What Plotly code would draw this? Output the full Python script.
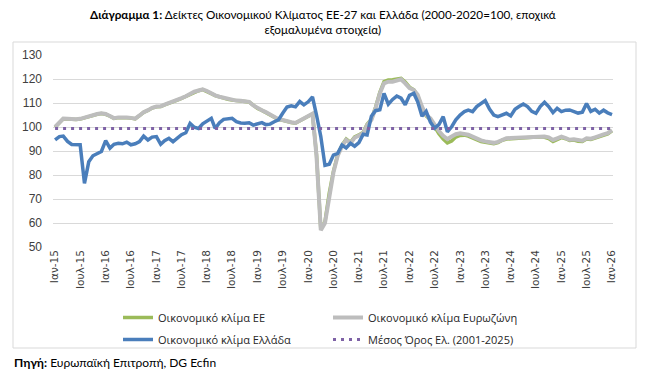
import pandas as pd
import plotly.graph_objects as go

months = pd.date_range("2015-01-01", "2026-01-01", freq="MS")

greece = [94.6, 96.0, 96.2, 94.0, 92.7, 92.5, 92.6, 76.5, 85.5, 88.0,
          88.8, 89.8, 94.3, 91.2, 92.8, 93.2, 93.0, 93.7, 92.6, 93.0,
          93.9, 96.2, 94.6, 95.8, 96.0, 92.8, 94.3, 95.3, 93.9, 95.2,
          96.8, 97.6, 101.5, 99.9, 99.4, 101.3, 102.3, 103.6, 99.4, 101.8,
          103.2, 103.4, 103.6, 102.2, 101.7, 101.6, 101.8, 100.8, 101.4, 101.8,
          101.0, 101.2, 102.2, 103.0, 105.7, 108.3, 108.8, 108.4, 110.6, 109.2,
          110.5, 112.5, 105.0, 96.0, 84.0, 84.5, 88.3, 89.0, 92.5, 91.3,
          93.2, 92.0, 93.5, 97.0, 96.7, 104.5, 106.8, 107.2, 114.0, 109.5,
          111.5, 112.9, 112.0, 109.3, 113.2, 114.0, 110.5, 104.5, 106.5, 102.0,
          99.5, 101.0, 104.3, 98.0, 100.1, 103.0, 105.0, 106.4, 107.0, 106.4,
          108.5, 110.0, 111.0, 107.5, 105.0, 104.3, 105.0, 105.7, 104.6, 107.4,
          108.5, 109.6, 108.5, 106.5, 105.7, 108.5, 110.3, 108.5, 106.0, 107.8,
          106.4, 107.0, 107.1, 106.5, 105.8, 106.2, 109.8, 106.5, 107.4, 105.8,
          107.0, 105.9, 105.2]

eurozone = [100.0, 102.0, 103.5, 103.4, 103.2, 103.2, 103.4, 104.0, 104.6, 105.0,
            105.4, 105.7, 105.4, 104.6, 103.7, 104.0, 104.1, 104.0, 103.8, 103.5,
            104.8, 106.2, 107.0, 108.0, 108.5, 108.6, 109.3, 109.9, 110.4, 111.3,
            112.0, 112.8, 114.0, 114.7, 115.2, 115.7, 115.0, 114.0, 113.2, 112.6,
            112.2, 111.6, 111.3, 111.0, 110.9, 110.7, 110.5, 109.0, 107.8, 107.0,
            106.2, 105.3, 104.2, 103.2, 102.9, 102.3, 102.0, 101.7, 102.6, 103.3,
            104.3, 105.5, 88.0, 57.0, 60.0, 72.0, 81.0, 88.0, 92.0, 94.6,
            93.2, 95.5, 96.3, 97.4, 100.8, 102.9, 107.8, 114.0, 118.2, 118.9,
            118.9, 119.3, 119.9, 118.2, 116.2, 115.4, 113.4, 108.5, 105.0, 103.6,
            100.8, 98.3, 96.3, 95.0, 96.0, 97.0, 97.4, 97.3, 96.8, 96.0,
            95.0, 94.4, 94.0, 93.6, 93.4, 93.8, 94.8, 95.3, 95.4, 95.5,
            95.6, 95.7, 96.0, 96.1, 96.0, 96.2, 96.0, 95.7, 94.6, 95.3,
            96.0, 95.4, 94.7, 94.9, 94.4, 94.3, 95.3, 95.1, 95.7, 96.5,
            96.9, 97.4, 98.7]

eu27 = [99.9, 101.9, 103.4, 103.3, 103.1, 103.1, 103.3, 103.9, 104.5, 104.9,
        105.3, 105.6, 105.3, 104.5, 103.6, 103.9, 104.0, 103.9, 103.7, 103.4,
        104.7, 106.1, 106.9, 107.9, 108.4, 108.5, 109.2, 109.8, 110.3, 111.2,
        111.9, 112.7, 113.9, 114.6, 115.1, 115.6, 114.9, 113.9, 113.1, 112.5,
        112.1, 111.5, 111.2, 110.9, 110.8, 110.6, 110.4, 108.9, 107.7, 106.9,
        106.1, 105.2, 104.1, 103.1, 102.8, 102.2, 101.9, 101.6, 102.5, 103.2,
        104.2, 105.4, 88.5, 57.5, 60.5, 72.5, 81.5, 88.5, 92.5, 95.0,
        93.6, 95.9, 96.7, 97.8, 101.2, 103.3, 108.2, 114.5, 118.9, 119.6,
        119.7, 120.0, 120.3, 118.8, 116.6, 115.5, 113.0, 108.0, 104.6, 103.0,
        100.0, 97.2, 95.0, 93.4, 94.2, 95.8, 96.5, 96.6, 96.2, 95.4,
        94.5, 93.9, 93.6, 93.2, 93.0, 93.5, 94.5, 95.0, 95.1, 95.2,
        95.3, 95.4, 95.7, 95.8, 95.7, 95.9, 95.7, 95.2, 94.0, 94.8,
        95.6, 95.1, 94.4, 94.6, 94.1, 94.0, 95.0, 94.8, 95.4, 96.2,
        96.6, 97.1, 98.4]

greece_mean = 99.4
mean_line = [greece_mean] * len(months)

tick_dates = pd.date_range("2015-01-01", "2026-01-01", freq="6MS")
tick_labels = []
for d in tick_dates:
    tick_labels.append(("Ιαν-" if d.month == 1 else "Ιουλ-") + str(d.year)[2:])

names = ["Οικονομικό κλίμα ΕΕ", "Οικονομικό κλίμα Ευρωζώνη",
         "Οικονομικό κλίμα Ελλάδα", "Μέσος Όρος Ελ. (2001-2025)"]

fig = go.Figure()
fig.add_trace(go.Scatter(x=months, y=eu27, name=names[0], mode="lines",
                         line=dict(color="#9BBB59", width=3.5), legend="legend"))
fig.add_trace(go.Scatter(x=months, y=eurozone, name=names[1], mode="lines",
                         line=dict(color="#BDBDBD", width=4), legend="legend"))
fig.add_trace(go.Scatter(x=months, y=greece, name=names[2], mode="lines",
                         line=dict(color="#4A7EBB", width=3.5), legend="legend2"))
fig.add_trace(go.Scatter(x=months, y=mean_line, name=names[3], mode="lines",
                         line=dict(color="#7E62A6", width=3, dash="3px,5px"),
                         legend="legend2"))

L, R, T, B = 53, 613, 55, 247
W, H = 646, 382
pw, ph = R - L, B - T

def px(xp):
    return (xp - L) / pw

def py(yp):
    return (B - yp) / ph

fig.update_layout(
    width=W, height=H,
    margin=dict(l=L, r=W - R, t=T, b=H - B, pad=0),
    paper_bgcolor="white", plot_bgcolor="white",
    font=dict(family="Open Sans, sans-serif", size=11, color="#262626"),
    xaxis=dict(
        range=["2014-12-17", "2026-01-08"],
        tickmode="array", tickvals=tick_dates, ticktext=tick_labels,
        tickangle=-90, showgrid=False, zeroline=False, showline=False,
        ticks="", tickfont=dict(family="DejaVu Sans, sans-serif", size=10.5, color="#404040"),
    ),
    yaxis=dict(
        range=[50, 130], dtick=10, tick0=50, showgrid=True, gridcolor="#D9D9D9",
        gridwidth=1, zeroline=False, showline=False, ticks="",
        tickfont=dict(family="Liberation Sans, sans-serif", size=12, color="#404040"),
        ticklabelstandoff=10,
    ),
    legend=dict(orientation="h", x=px(118), xanchor="left", y=py(303), yanchor="top",
                entrywidth=165, entrywidthmode="pixels", bgcolor="rgba(0,0,0,0)",
                font=dict(size=11, color="#262626"), itemwidth=30),
    legend2=dict(orientation="h", x=px(118), xanchor="left", y=py(325), yanchor="top",
                 entrywidth=165, entrywidthmode="pixels", bgcolor="rgba(0,0,0,0)",
                 font=dict(size=11, color="#262626"), itemwidth=30),
    showlegend=True,
    shapes=[dict(type="rect", xref="paper", yref="paper",
                 x0=px(13), x1=px(636), y0=py(348), y1=py(42),
                 line=dict(color="#D9D9D9", width=1), fillcolor="rgba(0,0,0,0)",
                 layer="below")],
    annotations=[
        dict(text="<b>Διάγραμμα 1:</b> Δείκτες Οικονομικού Κλίματος ΕΕ-27 και Ελλάδα (2000-2020=100, εποχικά<br>εξομαλυμένα στοιχεία)",
             xref="paper", yref="paper", x=px(323), y=py(21), xanchor="center",
             yanchor="middle", align="center", showarrow=False,
             font=dict(family="Lato, sans-serif", size=11.7, color="black")),
        dict(text="<b>Πηγή:</b> Ευρωπαϊκή Επιτροπή, DG Ecfin",
             xref="paper", yref="paper", x=px(12), y=py(362),
             xanchor="left", yanchor="middle", showarrow=False,
             font=dict(family="Lato, sans-serif", size=12, color="black")),
    ],
)

fig.write_html("out.html", config={"displayModeBar": False},
               post_script="document.body.style.margin='0';")
